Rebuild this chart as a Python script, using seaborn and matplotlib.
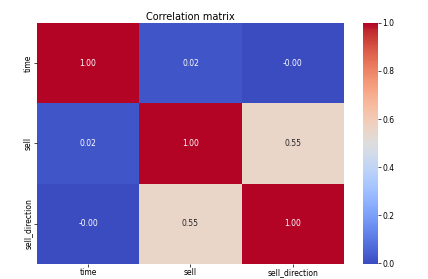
import numpy as np
import pandas as pd
import matplotlib
matplotlib.use("Agg")
import matplotlib.pyplot as plt
import seaborn as sns

labels = ["time", "sell", "sell_direction"]
row_time = [1.00, 0.02, -0.003]
row_sell = [0.02, 1.00, 0.55]
row_dir = [-0.003, 0.55, 1.00]

corr = pd.DataFrame([row_time, row_sell, row_dir], index=labels, columns=labels)

fig = plt.figure(figsize=(4.28, 2.79), dpi=100)
ax = fig.add_axes([0.086, 0.054, 0.718, 0.864])
cax = fig.add_axes([0.848, 0.054, 0.035, 0.864])
sns.heatmap(corr, annot=True, fmt=".2f", cmap="coolwarm", ax=ax, cbar_ax=cax,
            annot_kws={"fontsize": 5.5})
ax.set_title("Correlation matrix", fontsize=7, pad=2)
ax.tick_params(labelsize=5.5, length=2, width=0.5, pad=1)
cax.tick_params(labelsize=5.5, length=2, width=0.5, pad=1)
cax.set_yticks([0.0, 0.2, 0.4, 0.6, 0.8, 1.0])
for s in cax.spines.values():
    s.set_visible(False)
fig.savefig("out.png", dpi=100)
